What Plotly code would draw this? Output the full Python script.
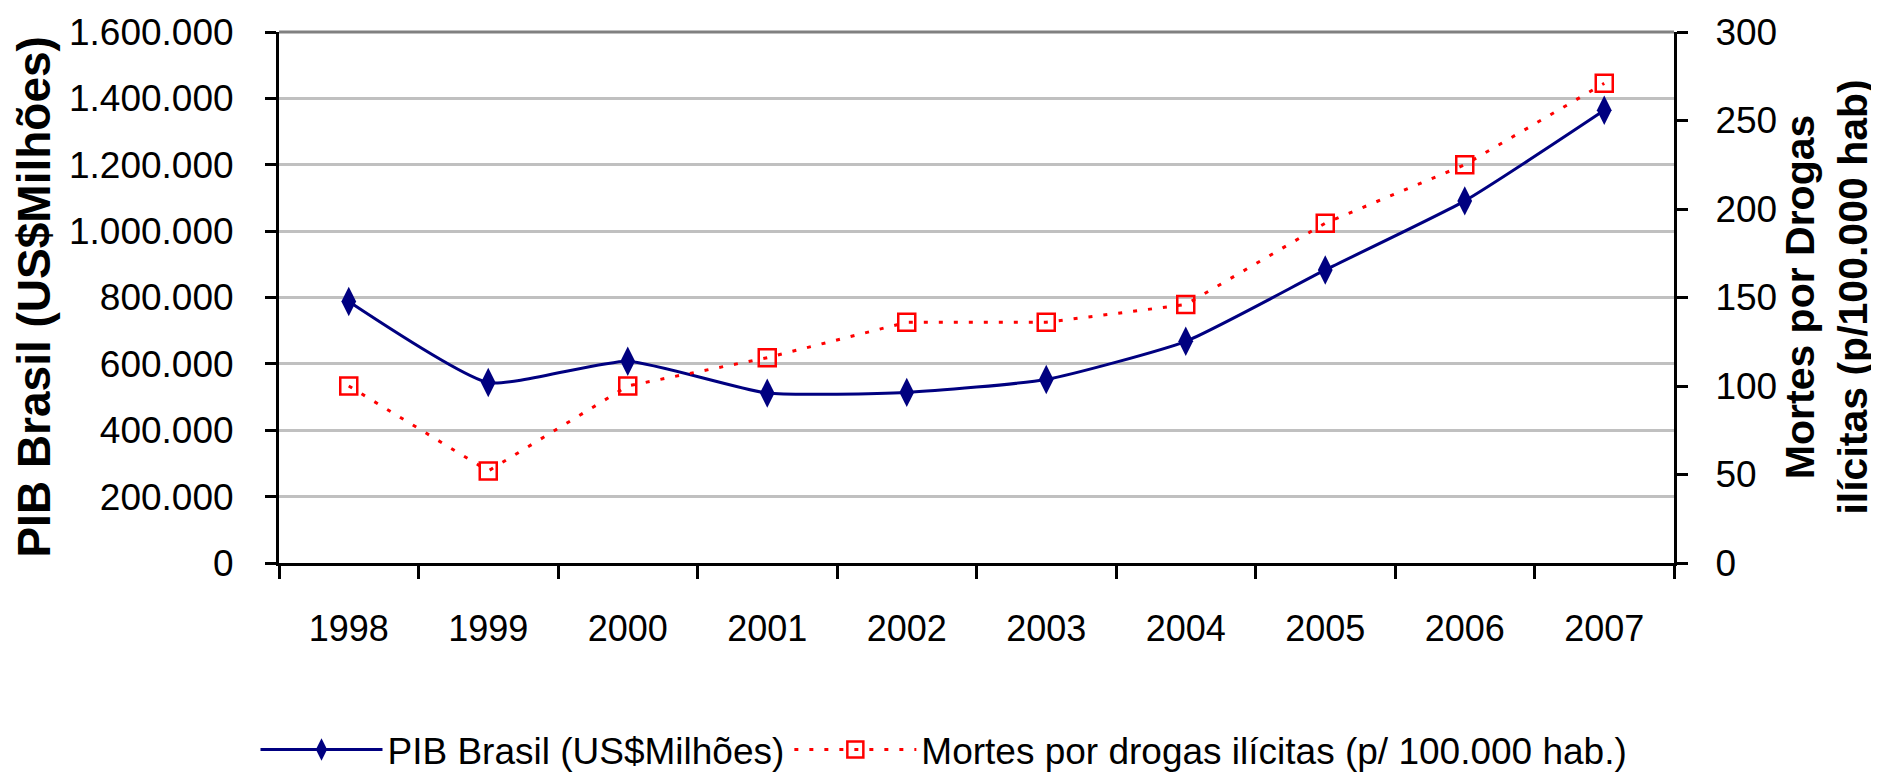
import plotly.graph_objects as go

years = ["1998", "1999", "2000", "2001", "2002", "2003", "2004", "2005", "2006", "2007"]
pib = [788000, 544000, 608000, 512000, 514000, 553000, 668000, 883000, 1091000, 1364000]
mortes = [100, 52, 100, 116, 136, 136, 146, 192, 225, 271]

pib_name = "PIB Brasil (US$Milhões)"
mortes_name = "Mortes por drogas ilícitas (p/ 100.000 hab.)"
left_title = "PIB Brasil (US$Milhões)"
right_title = "Mortes por Drogas<br>ilícitas (p/100.000 hab)"

FONT = "Liberation Sans, Arial, sans-serif"

fig = go.Figure()
fig.add_trace(go.Scatter(
    x=years, y=pib, name=pib_name, mode="lines+markers",
    line=dict(color="#000080", width=3, shape="spline", smoothing=0.5),
    marker=dict(symbol="diamond-tall", size=21, color="#000080"),
    yaxis="y",
))
fig.add_trace(go.Scatter(
    x=years, y=mortes, name=mortes_name, mode="lines+markers",
    line=dict(color="#FF0000", width=3, dash="4px,11px"),
    marker=dict(symbol="square-open", size=17, color="#FF0000", line=dict(width=2.5, color="#FF0000")),
    yaxis="y2",
))

# page body has an 8px margin; the figure is sized/offset so the plot area lands where the reference has it
fig.update_layout(
    width=1871, height=765,
    margin=dict(l=271, r=205, t=24, b=210, autoexpand=False),
    paper_bgcolor="white", plot_bgcolor="white",
    separators=",.",
    font=dict(family=FONT, size=37, color="black"),
    showlegend=True,
    legend=dict(orientation="h", x=0.4767, xanchor="center", y=-0.352, yanchor="middle",
                font=dict(family=FONT, size=37, color="black"), itemwidth=122,
                bgcolor="rgba(0,0,0,0)"),
    xaxis=dict(type="category", showgrid=False, showline=True, linecolor="black", linewidth=3,
               ticks="outside", ticklen=13, tickwidth=3, tickcolor="black", tickson="boundaries",
               ticklabelstandoff=32, tickfont=dict(family=FONT, size=36), range=[-0.5, 9.5]),
    yaxis=dict(range=[0, 1600000], dtick=200000, tickformat=",d", showgrid=True, gridcolor="#C0C0C0",
               gridwidth=3, showline=True, linecolor="black", linewidth=3, ticks="outside",
               ticklen=11, tickwidth=3, tickcolor="black", ticklabelstandoff=24,
               tickfont=dict(family=FONT, size=37), zeroline=False),
    yaxis2=dict(range=[0, 300], dtick=50, overlaying="y", side="right", showgrid=False,
                showline=True, linecolor="black", linewidth=3, ticks="outside", ticklen=11,
                tickwidth=3, tickcolor="black", ticklabelstandoff=20,
                tickfont=dict(family=FONT, size=37), zeroline=False),
    shapes=[dict(type="line", xref="paper", yref="paper", x0=0, x1=1, y0=1, y1=1,
                 line=dict(color="#808080", width=3))],
    annotations=[
        dict(text="<b>" + left_title + "</b>", xref="paper", yref="paper", x=-0.1763, y=0.5,
             textangle=-90, showarrow=False, font=dict(family=FONT, size=46, color="black"),
             xanchor="center", yanchor="middle"),
        dict(text="<b>" + right_title + "</b>", xref="paper", yref="paper", x=1.1090, y=0.5,
             textangle=-90, showarrow=False, font=dict(family=FONT, size=41, color="black"),
             xanchor="center", yanchor="middle"),
    ],
)

fig.write_html("out.html")
